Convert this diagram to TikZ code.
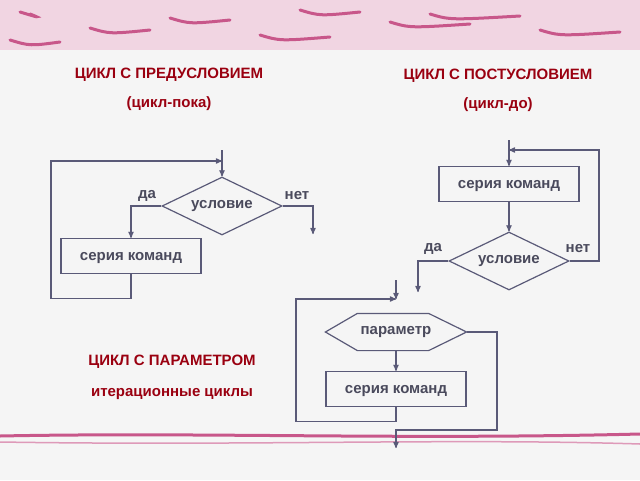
\documentclass[tikz,border=0pt]{standalone}
\usepackage{fontspec}
\setmainfont{Liberation Sans}
\usetikzlibrary{arrows,shapes.geometric}
\definecolor{ink}{HTML}{5A5A78}
\definecolor{txt}{HTML}{4A4A5C}
\definecolor{title}{HTML}{9A0010}
\definecolor{rose}{HTML}{C8578A}
\begin{document}
\begin{tikzpicture}[x=1pt,y=-1pt,>=stealth',line width=1.2pt,
  every node/.style={font=\bfseries\fontsize{15}{17}\selectfont,text=txt},
  block/.style={draw=ink,minimum width=140pt,minimum height=35pt,inner sep=0pt,text depth=0pt,yshift=-1pt},
  decision/.style={draw=ink,diamond,aspect=2.07,minimum width=120pt,minimum height=58pt,inner sep=0pt},
  hexa/.style={minimum width=140pt,minimum height=36pt,inner sep=0pt},
  head/.style={text=title},
  link/.style={draw=ink}]
  \fill[gray!8] (0,0) rectangle (640,480);
  \useasboundingbox (0,0) rectangle (640,480);
  % decor
  \fill[rose!25] (0,0) rectangle (640,50);
  \foreach \a/\b/\c in {20/30/12,90/150/28,170/230/18,260/330/35,300/360/10,390/470/22,430/520/14,540/620/30,10/60/40}
    \draw[rose,line width=3pt,line cap=round] (\a,\c) .. controls (\a+20,\c+6) .. (\b,\c+2);
  \draw[rose,line width=3pt] (0,436) .. controls (200,432) and (400,440) .. (640,434);
  \draw[rose!60,line width=1.5pt] (0,442) .. controls (250,446) and (450,438) .. (640,444);

  % titles
  \node[head] (t1) at (169,75) {ЦИКЛ С ПРЕДУСЛОВИЕМ};
  \node[head] (t1b) at (169,104) {(цикл-пока)};
  \node[head] (t2) at (498,76) {ЦИКЛ С ПОСТУСЛОВИЕМ};
  \node[head] (t2b) at (498,105) {(цикл-до)};
  \node[head] (t3) at (172,362) {ЦИКЛ С ПАРАМЕТРОМ};
  \node[head] (t3b) at (172,394) {итерационные циклы};

  % while loop
  \node[decision] (c1) at (222,206) {условие};
  \node[block] (s1) at (131,255) {серия команд};
  \coordinate (in1) at (222,150);
  \coordinate (out1) at (313,234);
  \node (yes1) at (147,196) {да};
  \node (no1) at (297,196) {нет};
  \draw[link,->] (in1) -- (c1.north);
  \draw[link,->] (c1.west) -| (s1.north);
  \draw[link,->] (c1.east) -| (out1);
  \draw[link,->] (s1.south) -- ++(0,24) -| (51,161) -- (222,161);

  % do-while loop
  \node[block] (s2) at (509,183) {серия команд};
  \node[decision] (c2) at (509,261) {условие};
  \coordinate (in2) at (509,140);
  \coordinate (out2) at (418,292);
  \node (yes2) at (433,249) {да};
  \node (no2) at (578,249) {нет};
  \draw[link,->] (in2) -- (s2.north);
  \draw[link,->] (s2.south) -- (c2.north);
  \draw[link,->] (c2.west) -| (out2);
  \draw[link,->] (c2.east) -- (599,261) -- (599,150) -- (509,150);

  % for loop
  \node[hexa] (p3) at (396,332) {параметр};
  \draw[link] (p3.west) -- ([xshift=32pt]p3.north west) -- ([xshift=-38pt]p3.north east)
    -- (p3.east) -- ([xshift=-38pt]p3.south east) -- ([xshift=32pt]p3.south west) -- cycle;
  \node[block] (s3) at (396,388) {серия команд};
  \coordinate (in3) at (396,280);
  \coordinate (out3) at (396,448);
  \draw[link,->] (in3) -- (396,299);
  \draw[link,->] (p3.south) -- (s3.north);
  \draw[link,->] (s3.south) -- ++(0,14) -| (296,299) -- (396,299);
  \draw[link,->] (p3.east) -- (497,332) |- (396,430) -- (out3);
\end{tikzpicture}
\end{document}
